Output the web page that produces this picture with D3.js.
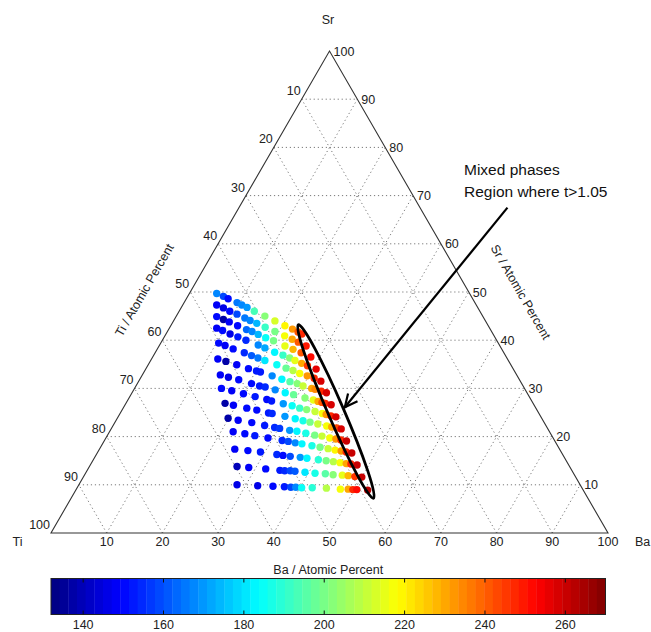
<!DOCTYPE html>
<html>
<head>
<meta charset="utf-8">
<script src="https://cdn.jsdelivr.net/npm/d3@7"></script>
<style>
    body { margin: 0; background: #fff; }
    text { font-family: "Liberation Sans", Arial, sans-serif; fill: #222; }
</style>
</head>
<body>
<svg id="ternary" width="651" height="632"></svg>
<script>
// axis ticks (atomic percent) and colour bar ticks
var ticks = [10, 20, 30, 40, 50, 60, 70, 80, 90, 100];
var gridLevels = [10, 20, 30, 40, 50, 60, 70, 80, 90];
var colorTicks = [140, 160, 180, 200, 220, 240, 260];
var colorDomain = [132, 270];

// measured compositions, one line per row of the library (Ba %, Sr %)
var baRows = [
    [4.9, 6.4, 7.5, 9.5, 10.6, 11.8, 13.5, 15.9, 18.2, 20.5, 22.2, 23.5, 24.4],
    [6.1, 7.6, 9.1, 10.7, 12.5, 13.7, 15.2, 17.1, 19.3, 21.5, 23.2, 24.6, 26.4],
    [7.3, 8.8, 10.1, 12.0, 14.0, 15.2, 16.6, 18.3, 20.0, 22.6, 24.4, 26.2, 28.4],
    [8.5, 9.8, 11.5, 13.2, 15.0, 17.7, 19.2, 21.4, 23.2, 24.7, 25.9, 27.4, 28.7, 30.6],
    [10.4, 11.8, 13.6, 16.0, 17.6, 19.0, 20.5, 23.1, 25.1, 26.6, 28.1, 29.7, 31.2, 32.7],
    [11.9, 13.6, 15.9, 18.4, 20.1, 20.9, 23.4, 25.5, 27.2, 28.7, 30.0, 31.8, 32.5, 33.8, 34.9],
    [14.0, 15.7, 17.8, 20.5, 22.2, 23.3, 25.4, 27.5, 29.2, 31.6, 33.3, 34.3, 35.1, 35.8, 37.0],
    [15.6, 17.7, 20.1, 22.5, 24.9, 25.9, 28.3, 30.1, 31.7, 33.1, 34.8, 36.3, 37.1, 38.1, 39.1],
    [17.8, 19.5, 22.2, 24.2, 26.6, 27.3, 29.9, 32.0, 33.6, 35.0, 36.6, 38.4, 39.4, 40.4, 41.3],
    [19.9, 21.9, 24.6, 27.2, 29.2, 30.2, 32.2, 33.6, 35.4, 37.2, 38.6, 40.2, 41.4, 42.4, 43.5],
    [22.2, 24.5, 26.5, 29.1, 31.9, 33.1, 34.5, 35.8, 37.8, 39.4, 41.0, 42.4, 43.6, 44.6, 45.7],
    [24.3, 26.8, 29.2, 32.4, 33.6, 35.0, 36.9, 38.2, 40.4, 41.9, 43.3, 44.6, 45.8, 46.7, 47.9],
    [26.5, 28.7, 31.9, 34.6, 35.5, 36.5, 37.4, 39.3, 41.2, 43.1, 44.6, 46.3, 47.4, 48.7, 50.0],
    [28.4, 32.2, 35.0, 37.1, 38.3, 39.2, 40.3, 42.2, 44.8, 47.4, 48.8, 49.7, 50.4, 52.4]
];
var srRows = [
    [49.7, 49.1, 48.6, 47.8, 47.3, 46.8, 46.0, 45.0, 44.0, 43.0, 42.3, 41.7, 41.3],
    [47.3, 46.7, 46.0, 45.4, 44.6, 44.1, 43.5, 42.7, 41.8, 40.9, 40.2, 39.6, 38.8],
    [44.9, 44.3, 43.8, 43.0, 42.2, 41.8, 41.2, 40.5, 39.9, 38.8, 38.1, 37.4, 36.5],
    [42.5, 42.0, 41.3, 40.7, 40.0, 39.0, 38.4, 37.5, 36.9, 36.3, 35.8, 35.2, 34.7, 34.0],
    [39.4, 38.9, 38.2, 37.4, 36.8, 36.3, 35.8, 34.9, 34.2, 33.7, 33.1, 32.6, 32.1, 31.5],
    [36.1, 35.6, 34.9, 34.1, 33.6, 33.4, 32.6, 31.9, 31.4, 31.0, 30.5, 30.0, 29.8, 29.4, 29.1],
    [32.8, 32.3, 31.8, 31.0, 30.5, 30.3, 29.7, 29.1, 28.7, 28.0, 27.6, 27.3, 27.1, 26.9, 26.6],
    [30.0, 29.5, 28.9, 28.3, 27.7, 27.4, 26.8, 26.4, 25.9, 25.6, 25.2, 24.8, 24.6, 24.3, 24.1],
    [26.9, 26.5, 25.9, 25.5, 24.9, 24.8, 24.2, 23.7, 23.3, 23.0, 22.6, 22.2, 22.0, 21.8, 21.6],
    [23.8, 23.4, 22.9, 22.3, 21.9, 21.7, 21.3, 21.1, 20.7, 20.3, 20.1, 19.7, 19.5, 19.3, 19.1],
    [21.0, 20.6, 20.2, 19.7, 19.2, 19.0, 18.7, 18.5, 18.1, 17.8, 17.5, 17.2, 17.0, 16.8, 16.6],
    [17.4, 17.1, 16.8, 16.3, 16.1, 15.9, 15.7, 15.5, 15.2, 15.0, 14.8, 14.6, 14.4, 14.3, 14.1],
    [13.8, 13.6, 13.3, 13.0, 12.9, 12.9, 12.8, 12.6, 12.4, 12.3, 12.1, 12.0, 11.9, 11.7, 11.6],
    [10.0, 9.8, 9.7, 9.6, 9.5, 9.5, 9.4, 9.4, 9.3, 9.1, 9.1, 9.0, 9.0, 8.9]
];
// colour value of each point
var valRows = [
    [168, 160, 150, 165, 168, 170, 193, 203, 212, 220, 232, 240, 248],
    [148, 145, 150, 158, 165, 167, 175, 192, 200, 218, 230, 240, 250],
    [150, 138, 148, 150, 163, 167, 175, 185, 200, 215, 228, 240, 252],
    [148, 150, 147, 152, 155, 168, 172, 183, 192, 202, 215, 230, 245, 255],
    [150, 148, 150, 155, 162, 165, 180, 185, 198, 208, 218, 232, 248, 258],
    [148, 138, 148, 150, 152, 153, 168, 182, 195, 203, 210, 230, 235, 248, 258],
    [148, 145, 150, 150, 152, 155, 168, 182, 198, 203, 215, 230, 240, 248, 258],
    [150, 148, 150, 152, 150, 153, 170, 185, 192, 203, 210, 218, 232, 248, 258],
    [138, 148, 150, 150, 152, 154, 170, 183, 188, 200, 210, 218, 230, 242, 258],
    [138, 148, 150, 152, 155, 156, 170, 182, 188, 200, 210, 218, 232, 248, 260],
    [148, 150, 152, 150, 155, 160, 168, 183, 188, 200, 210, 220, 232, 248, 260],
    [148, 150, 152, 155, 150, 160, 170, 183, 190, 200, 208, 218, 230, 248, 260],
    [140, 148, 150, 152, 155, 158, 162, 180, 187, 195, 203, 215, 228, 245, 260],
    [145, 147, 150, 152, 160, 168, 185, 190, 208, 218, 230, 248, 252, 262]
];

// annotation (Ba %, Sr %)
var ellipseEnds = [[22.8, 43.2], [54.3, 7.2]];
var arrowFrom = [48.2, 67.5];
var arrowTo = [39.7, 26.1];
var noteAt = [37.0, 74.3];
var noteLines = ['Mixed phases', 'Region where t>1.05'];

var svg = d3.select('#ternary');

var left = 51, side = 557, base = 533, apex = 51;
var xs = d3.scaleLinear().domain([0, 100]).range([left, left + side]);
var ys = d3.scaleLinear().domain([0, 100]).range([base, apex]);

var proj = function(b, s) {
    return [xs(b + s / 2), ys(s)];
};

// matlab jet, 64 levels
var jet = function(t) {
    var c = function(v) { return Math.round(255 * Math.min(1, Math.max(0, v))); };
    return d3.rgb(
        c(Math.min(4 * t - 1.5, -4 * t + 4.5)),
        c(Math.min(4 * t - 0.5, -4 * t + 3.5)),
        c(Math.min(4 * t + 0.5, -4 * t + 2.5))
    ).toString();
};
var levels = 64;
var norm = d3.scaleLinear().domain(colorDomain).range([0, 1]).clamp(true);
var color = function(v) {
    var k = Math.min(levels - 1, Math.floor(norm(v) * levels));
    return jet((k + 0.5) / levels);
};

var line = d3.line();

// dotted grid
var grid = svg.append('g')
    .attr('fill', 'none')
    .attr('stroke', '#7a7a7a')
    .attr('stroke-width', 1)
    .attr('stroke-dasharray', '1.2,2.8');
gridLevels.forEach(function(k) {
    grid.append('path').attr('d', line([proj(0, k), proj(100 - k, k)]));
    grid.append('path').attr('d', line([proj(k, 0), proj(k, 100 - k)]));
    grid.append('path').attr('d', line([proj(100 - k, 0), proj(0, 100 - k)]));
});

// triangle frame
svg.append('path')
    .attr('d', line([proj(0, 0), proj(100, 0), proj(0, 100)]) + 'Z')
    .attr('fill', 'none')
    .attr('stroke', '#333')
    .attr('stroke-width', 1.1);

// tick labels
var tickFont = 12.5;
svg.append('g').selectAll('text')
    .data(ticks).enter().append('text')
    .attr('x', function(d) { return proj(d, 0)[0]; })
    .attr('y', base + 13)
    .attr('text-anchor', 'middle')
    .style('font-size', tickFont + 'px')
    .text(function(d) { return d; });

svg.append('g').selectAll('text')
    .data(ticks).enter().append('text')
    .attr('x', function(d) { return proj(0, 100 - d)[0] - 1; })
    .attr('y', function(d) { return proj(0, 100 - d)[1] - 4; })
    .attr('text-anchor', 'end')
    .style('font-size', tickFont + 'px')
    .text(function(d) { return d; });

svg.append('g').selectAll('text')
    .data(ticks).enter().append('text')
    .attr('x', function(d) { return proj(100 - d, d)[0] + 4; })
    .attr('y', function(d) { return proj(100 - d, d)[1] + 4.5; })
    .style('font-size', tickFont + 'px')
    .text(function(d) { return d; });

// corner names
svg.append('text').attr('x', 12.5).attr('y', base + 13).style('font-size', '12.5px').text('Ti');
svg.append('text').attr('x', 635).attr('y', base + 13).style('font-size', '12.5px').text('Ba');
svg.append('text').attr('x', proj(0, 100)[0] - 1.5).attr('y', apex - 27)
    .attr('text-anchor', 'middle').style('font-size', '12.5px').text('Sr');

// edge titles
var lm = proj(0, 50), rm = proj(50, 50);
svg.append('text')
    .attr('transform', 'translate(' + (lm[0] - 46) + ',' + (lm[1] - 2) + ') rotate(-60)')
    .attr('text-anchor', 'middle').attr('dy', '0.35em')
    .style('font-size', '12.5px')
    .text('Ti / Atomic Percent');
svg.append('text')
    .attr('transform', 'translate(' + (rm[0] + 52) + ',' + rm[1] + ') rotate(60)')
    .attr('text-anchor', 'middle').attr('dy', '0.35em')
    .style('font-size', '12.5px')
    .text('Sr / Atomic Percent');

// data points
var points = [];
baRows.forEach(function(row, i) {
    row.forEach(function(b, j) {
        points.push({ ba: b, sr: srRows[i][j], v: valRows[i][j] });
    });
});
svg.append('g').selectAll('circle')
    .data(points).enter().append('circle')
    .attr('cx', function(d) { return proj(d.ba, d.sr)[0]; })
    .attr('cy', function(d) { return proj(d.ba, d.sr)[1]; })
    .attr('r', 3.7)
    .attr('fill', function(d) { return color(d.v); });

// ellipse around the mixed-phase points
var e1 = proj(ellipseEnds[0][0], ellipseEnds[0][1]);
var e2 = proj(ellipseEnds[1][0], ellipseEnds[1][1]);
var ecx = (e1[0] + e2[0]) / 2, ecy = (e1[1] + e2[1]) / 2;
var eAngle = Math.atan2(e2[1] - e1[1], e2[0] - e1[0]) * 180 / Math.PI;
svg.append('ellipse')
    .attr('cx', ecx).attr('cy', ecy)
    .attr('rx', Math.hypot(e2[0] - e1[0], e2[1] - e1[1]) / 2)
    .attr('ry', 8)
    .attr('transform', 'rotate(' + eAngle + ',' + ecx + ',' + ecy + ')')
    .attr('fill', 'none')
    .attr('stroke', '#000')
    .attr('stroke-width', 2.8);

// arrow
var a0 = proj(arrowFrom[0], arrowFrom[1]);
var a1 = proj(arrowTo[0], arrowTo[1]);
var ang = Math.atan2(a0[1] - a1[1], a0[0] - a1[0]);
var head = 14, spread = 0.45;
svg.append('path')
    .attr('d', line([a0, a1]))
    .attr('stroke', '#000').attr('stroke-width', 2.2).attr('fill', 'none');
svg.append('path')
    .attr('d', line([
        [a1[0] + head * Math.cos(ang + spread), a1[1] + head * Math.sin(ang + spread)],
        a1,
        [a1[0] + head * Math.cos(ang - spread), a1[1] + head * Math.sin(ang - spread)]
    ]))
    .attr('stroke', '#000').attr('stroke-width', 2.2).attr('fill', 'none');

var note = proj(noteAt[0], noteAt[1]);
svg.append('g').selectAll('text')
    .data(noteLines).enter().append('text')
    .attr('x', note[0])
    .attr('y', function(d, i) { return note[1] + i * 22.4; })
    .style('font-size', '15.5px')
    .style('fill', '#111')
    .text(function(d) { return d; });

// colour bar
var cb = d3.scaleLinear().domain(colorDomain).range([51, 605.5]);
var cbTop = 578.5, cbH = 36;
var bar = svg.append('g');
bar.selectAll('rect')
    .data(d3.range(levels)).enter().append('rect')
    .attr('x', function(k) { return cb(colorDomain[0] + (colorDomain[1] - colorDomain[0]) * k / levels); })
    .attr('y', cbTop)
    .attr('width', (cb(colorDomain[1]) - cb(colorDomain[0])) / levels + 0.4)
    .attr('height', cbH)
    .attr('fill', function(k) { return jet((k + 0.5) / levels); });
bar.append('rect')
    .attr('x', cb(colorDomain[0])).attr('y', cbTop)
    .attr('width', cb(colorDomain[1]) - cb(colorDomain[0])).attr('height', cbH)
    .attr('fill', 'none').attr('stroke', '#222').attr('stroke-width', 1);
bar.selectAll('.tk')
    .data(colorTicks).enter().append('path')
    .attr('d', function(d) {
        return 'M' + cb(d) + ',' + cbTop + 'v4M' + cb(d) + ',' + (cbTop + cbH) + 'v-4';
    })
    .attr('stroke', '#111').attr('stroke-width', 1);
bar.selectAll('text')
    .data(colorTicks).enter().append('text')
    .attr('x', function(d) { return cb(d); })
    .attr('y', cbTop + cbH + 14.5)
    .attr('text-anchor', 'middle')
    .style('font-size', '12.5px')
    .text(function(d) { return d; });
svg.append('text')
    .attr('x', cb((colorDomain[0] + colorDomain[1]) / 2))
    .attr('y', cbTop - 4.5)
    .attr('text-anchor', 'middle')
    .style('font-size', '12.5px')
    .text('Ba / Atomic Percent');
</script>
</body>
</html>
